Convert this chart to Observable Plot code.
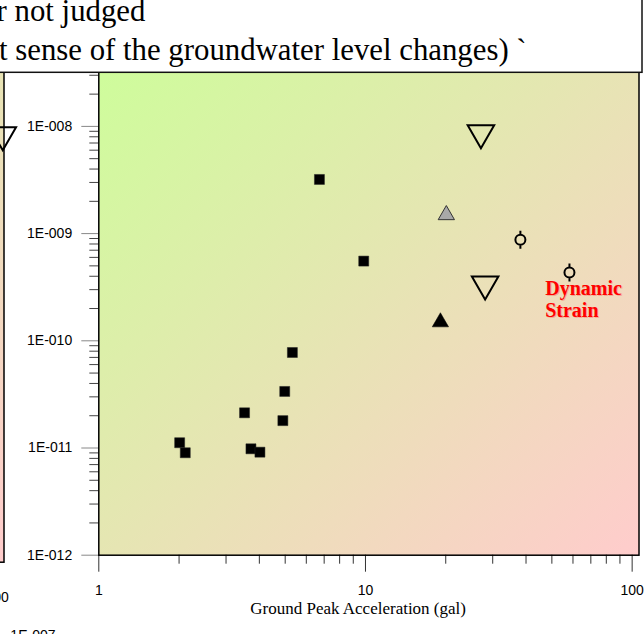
<!DOCTYPE html>
<html><head><meta charset="utf-8">
<script src="https://cdn.jsdelivr.net/npm/d3@7"></script>
<script src="https://cdn.jsdelivr.net/npm/@observablehq/plot@0.6"></script>
<style>
html,body{margin:0;padding:0;background:#fff;}
#fig{position:relative;width:644px;height:634px;overflow:hidden;background:#fff;}
#fig > svg{position:absolute;}
</style></head><body><div id="fig"></div>
<script>
// ---------- data ----------
const squareX = [6.72, 9.85, 5.32, 4.98, 3.52, 4.90, 2.01, 2.11, 3.72, 4.02];
const squareY = [3.2e-9, 5.54e-10, 7.78e-11, 3.37e-11, 2.13e-11, 1.8e-11, 1.12e-11, 9.03e-12, 9.83e-12, 9.14e-12];
const openDownX = [27.1, 28.1];
const openDownY = [8.0e-9, 3.11e-10];
const grayUpX = [20.1];
const grayUpY = [1.57e-9];
const blackUpX = [19.1];
const blackUpY = [1.57e-10];
const circleX = [38.1, 58.2];
const circleY = [8.77e-10, 4.34e-10];
const leftPanelDownX = [105];
const leftPanelDownY = [8.9e-9];
const yTicks = [1e-12, 1e-11, 1e-10, 1e-9, 1e-8, 1e-7];
const yTickLabels = ["1E-012", "1E-011", "1E-010", "1E-009", "1E-008", "1E-007"];
const xTicks = [1, 10, 100];
const xTickLabels = ["1", "10", "100"];
const xTitle = "Ground Peak Acceleration (gal)";
const annotText = ["Dynamic\nStrain"];
const annotX = [47.2];
const annotY = [3.78e-10];
const legendLines = ["r not judged", "t sense of the groundwater level changes) `"];

// ---------- helpers ----------
const pts = (xs, ys) => xs.map((x, i) => ({x, y: ys[i]}));
const yMinor = [];
for (let e = -12; e < -7; e++) for (let m = 2; m <= 9; m++) yMinor.push(m * Math.pow(10, e));
const xMinor = [];
for (let e = 0; e < 2; e++) for (let m = 2; m <= 9; m++) xMinor.push(m * Math.pow(10, e));

const triDown = {draw(ctx, size) {
  const w = Math.sqrt(size), h = w * Math.sqrt(3) / 2;
  ctx.moveTo(-w / 2, -h / 2); ctx.lineTo(w / 2, -h / 2); ctx.lineTo(0, h / 2); ctx.closePath();
}};
const triUp = {draw(ctx, size) {
  const w = Math.sqrt(size), h = w * Math.sqrt(3) / 2;
  ctx.moveTo(-w / 2, h / 2); ctx.lineTo(w / 2, h / 2); ctx.lineTo(0, -h / 2); ctx.closePath();
}};
const circleWhisker = {draw(ctx, size) {
  const r = Math.sqrt(size / Math.PI);
  ctx.moveTo(r, 0); ctx.arc(0, 0, r, 0, 2 * Math.PI);
  ctx.moveTo(0, -r); ctx.lineTo(0, -1.8 * r);
  ctx.moveTo(0, r); ctx.lineTo(0, 1.8 * r);
}};
const SQ = Math.sqrt(Math.PI);

function addGradient(svg, id) {
  const ns = "http://www.w3.org/2000/svg";
  const defs = document.createElementNS(ns, "defs");
  const g = document.createElementNS(ns, "linearGradient");
  g.setAttribute("id", id);
  g.setAttribute("x1", "0"); g.setAttribute("y1", "0");
  g.setAttribute("x2", "1"); g.setAttribute("y2", "1");
  [["0", "#ccff99"], ["1", "#ffcccc"]].forEach(([o, c]) => {
    const s = document.createElementNS(ns, "stop");
    s.setAttribute("offset", o); s.setAttribute("stop-color", c);
    g.appendChild(s);
  });
  defs.appendChild(g);
  svg.insertBefore(defs, svg.firstChild);
}

const baseStyle = {background: "transparent", overflow: "visible", fontFamily: "'Liberation Sans', Arial, sans-serif", fontSize: "14px", color: "black"};

function panel(gradId, marks) {
  return Plot.plot({
    width: 644, height: 634,
    marginLeft: 98.3, marginRight: 5.5, marginTop: 18.7, marginBottom: 79.3,
    x: {type: "log", domain: [1, 106.1], axis: null},
    y: {type: "log", domain: [1e-12, 1e-7], axis: null},
    style: baseStyle,
    marks: [
      Plot.frame({fill: `url(#${gradId})`}),
      ...marks
    ]
  });
}

const axesMarks = [
  Plot.axisY({ticks: yMinor, tickSize: 9, tickFormat: () => "", stroke: "#444", label: null}),
  Plot.axisY({ticks: yTicks, tickSize: 17, tickPadding: 9.6, stroke: "#888", fill: "black", fontSize: 14, label: null,
    tickFormat: d => yTickLabels[yTicks.indexOf(d)]}),
  Plot.axisX({ticks: xMinor, tickSize: 9, tickFormat: () => "", stroke: "#333", label: null}),
  Plot.axisX({ticks: xTicks, tickSize: 17, tickPadding: 13, stroke: "#333", fill: "black", fontSize: 14, label: null,
    tickFormat: d => xTickLabels[xTicks.indexOf(d)]}),
  Plot.frame({stroke: "black", strokeWidth: 1.5})
];

const fig = document.getElementById("fig");

// ---------- left neighbouring panel (only its right edge is visible) ----------
const left = panel("bgLeft", [
  ...axesMarks,
  Plot.dot(pts(leftPanelDownX, leftPanelDownY), {x: "x", y: "y", symbol: triDown, r: 26.5 / SQ, fill: "none", stroke: "black", strokeWidth: 2})
]);
addGradient(left, "bgLeft");
left.style.left = "-635px"; left.style.top = "7px";
fig.appendChild(left);

// ---------- bottom neighbouring panel (only its top label is visible) ----------
const bottom = Plot.plot({
  width: 644, height: 634,
  marginLeft: 81.6, marginRight: 5.5, marginTop: 18.7, marginBottom: 79.3,
  x: {type: "log", domain: [1, 106.1], axis: null},
  y: {type: "log", domain: [1e-12, 1e-7], axis: null},
  style: baseStyle,
  marks: [
    Plot.axisY({ticks: yTicks, tickSize: 17, tickPadding: 9.6, stroke: "#888", fill: "black", fontSize: 14, label: null,
      tickFormat: d => yTickLabels[yTicks.indexOf(d)]})
  ]
});
bottom.style.left = "0px"; bottom.style.top = "615.8px";
fig.appendChild(bottom);

// ---------- main panel ----------
const main = panel("bgMain", [
  ...axesMarks,
  Plot.dot(pts(squareX, squareY), {x: "x", y: "y", symbol: "square", r: 10 / SQ, fill: "black", stroke: "#222", strokeWidth: 0.5}),
  Plot.dot(pts(openDownX, openDownY), {x: "x", y: "y", symbol: triDown, r: 26.5 / SQ, fill: "none", stroke: "black", strokeWidth: 2}),
  Plot.dot(pts(grayUpX, grayUpY), {x: "x", y: "y", symbol: triUp, r: 16.3 / SQ, fill: "#a8a8a8", stroke: "#333", strokeWidth: 1}),
  Plot.dot(pts(blackUpX, blackUpY), {x: "x", y: "y", symbol: triUp, r: 16.3 / SQ, fill: "black", stroke: "black", strokeWidth: 0.5}),
  Plot.dot(pts(circleX, circleY), {x: "x", y: "y", symbol: circleWhisker, r: 5, fill: "none", stroke: "black", strokeWidth: 2}),
  Plot.text(pts(annotX, annotY), {x: "x", y: "y", text: () => annotText[0], textAnchor: "start", lineAnchor: "top",
    lineHeight: 1.1, fill: "rgba(255,0,0,0.22)", fontFamily: "'Liberation Serif', 'Times New Roman', serif",
    fontWeight: "bold", fontSize: 20, dx: 1.2, dy: 1.2}),
  Plot.text(pts(annotX, annotY), {x: "x", y: "y", text: () => annotText[0], textAnchor: "start", lineAnchor: "top",
    lineHeight: 1.1, fill: "#ff0000", fontFamily: "'Liberation Serif', 'Times New Roman', serif",
    fontWeight: "bold", fontSize: 20}),
  Plot.text([xTitle], {frameAnchor: "bottom", lineAnchor: "bottom", dy: 58.6, dx: -10.8,
    fontFamily: "'Liberation Serif', 'Times New Roman', serif", fontSize: 17, fill: "black"})
]);
addGradient(main, "bgMain");
main.style.left = "0px"; main.style.top = "0px";
fig.appendChild(main);

// ---------- legend box (partly visible, cropped at the top-left) ----------
const leg = d3.create("svg").attr("width", 644).attr("height", 80)
  .style("left", "0px").style("top", "0px").style("overflow", "visible");
leg.append("rect").attr("x", -10).attr("y", -10).attr("width", 652).attr("height", 82.3)
  .attr("fill", "white").attr("stroke", "#111").attr("stroke-width", 1.5);
const legX = [-3.4, -1], legBase = [20.8, 60];
leg.selectAll("text").data(legendLines).join("text")
  .attr("x", (d, i) => legX[i]).attr("y", (d, i) => legBase[i])
  .attr("font-family", "'Liberation Serif', 'Times New Roman', serif")
  .attr("font-size", 30.8).attr("fill", "black")
  .style("white-space", "pre")
  .text(d => d);
fig.appendChild(leg.node());
</script>
</body></html>
